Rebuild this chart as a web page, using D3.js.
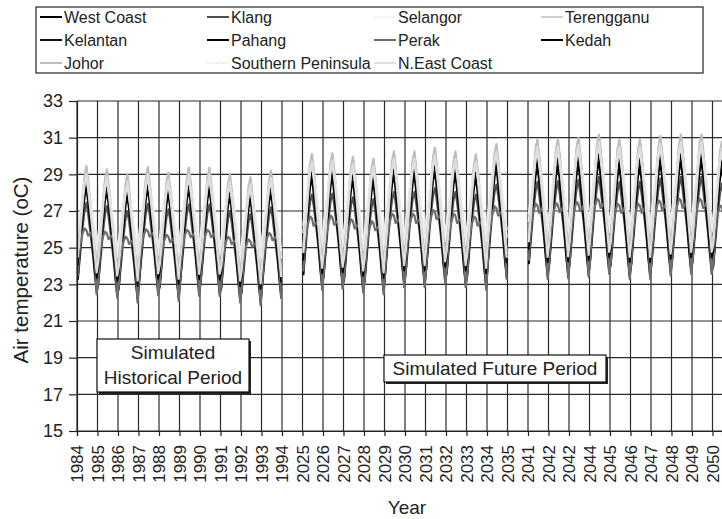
<!DOCTYPE html>
<html>
<head>
<meta charset="utf-8">
<script src="https://cdn.jsdelivr.net/npm/d3@7"></script>
<style>
  body { margin: 0; background: #fff; }
  svg { font-family: "Liberation Sans", Arial, sans-serif; }
</style>
</head>
<body>
<svg id="chart" width="722" height="519"></svg>
<script>
// tick labels as printed on the original (note the repeated 2042)
const years = ['1984','1985','1986','1987','1988','1989','1990','1991','1992','1993','1994',
  '2025','2026','2027','2028','2029','2030','2031','2032','2033','2034','2035',
  '2041','2042','2042','2044','2045','2046','2047','2048','2049','2050']

// first slot of each simulated period (10 years each)
const periodStart = [0, 11, 22]

// monthly air temperature, Jan..Dec, for historical / future 1 / future 2
const westCoast = [23.4,24.6,25.8,27.0,27.9,28.4,27.5,26.6,25.6,24.6,23.5,22.6,
  24.0,25.3,26.6,27.8,28.8,29.3,28.4,27.4,26.4,25.3,24.1,23.2,
  24.6,25.9,27.2,28.4,29.4,29.9,29.0,28.0,27.0,25.9,24.7,23.8]
const klang = [23.0,24.0,25.0,26.0,26.8,27.2,26.6,25.8,25.0,24.2,23.2,22.3,
  23.6,24.7,25.8,26.8,27.6,28.0,27.4,26.6,25.8,24.9,23.8,22.9,
  24.2,25.3,26.4,27.4,28.2,28.7,28.0,27.2,26.4,25.5,24.4,23.5]
const selangor = [25.2,26.0,26.9,27.8,28.5,28.9,28.3,27.6,26.9,26.1,25.2,24.4,
  25.9,26.8,27.8,28.8,29.5,29.9,29.3,28.6,27.8,27.0,26.0,25.1,
  26.5,27.4,28.4,29.4,30.2,30.7,30.0,29.3,28.5,27.6,26.6,25.7]
const terengganu = [24.4,25.4,26.5,27.6,28.6,29.1,28.2,27.3,26.4,25.5,24.5,23.6,
  25.0,26.1,27.3,28.5,29.6,30.1,29.2,28.2,27.2,26.2,25.1,24.2,
  25.6,26.8,28.0,29.2,30.4,30.9,30.0,29.0,28.0,26.9,25.8,24.8]
const kelantan = [23.6,24.8,26.0,27.1,28.0,28.6,27.7,26.8,25.9,24.9,23.8,22.9,
  24.2,25.5,26.8,28.0,29.0,29.5,28.6,27.6,26.6,25.6,24.4,23.5,
  24.8,26.1,27.4,28.6,29.6,30.1,29.2,28.2,27.2,26.2,25.0,24.1]
const pahang = [23.0,24.2,25.4,26.6,27.5,28.0,27.2,26.3,25.4,24.4,23.3,22.4,
  23.6,24.9,26.2,27.4,28.4,28.9,28.0,27.1,26.1,25.1,23.9,23.0,
  24.2,25.5,26.8,28.0,29.0,29.5,28.7,27.7,26.7,25.7,24.5,23.6]
const perak = [23.2,24.6,25.3,25.6,25.8,25.7,25.4,25.5,25.6,25.2,24.0,22.2,
  23.8,25.3,26.1,26.5,26.8,26.7,26.3,26.4,26.5,26.1,24.7,22.8,
  24.4,25.9,26.8,27.2,27.5,27.4,27.0,27.1,27.3,26.8,25.4,23.4]
const kedah = [23.8,25.0,26.2,27.3,28.1,28.5,27.6,26.8,26.0,25.1,24.0,23.1,
  24.4,25.7,27.0,28.2,29.1,29.4,28.6,27.7,26.8,25.8,24.6,23.7,
  25.0,26.3,27.6,28.8,29.7,30.0,29.2,28.3,27.4,26.4,25.2,24.3]
const johor = [24.6,25.6,26.7,27.8,28.7,29.2,28.4,27.5,26.6,25.7,24.7,23.8,
  25.2,26.3,27.5,28.7,29.7,30.2,29.4,28.4,27.4,26.4,25.3,24.4,
  25.8,27.0,28.2,29.4,30.5,31.0,30.2,29.2,28.2,27.1,26.0,25.0]
const southernPeninsula = [25.6,26.3,27.0,27.7,28.3,28.6,28.0,27.4,26.8,26.2,25.5,24.8,
  26.3,27.1,27.9,28.7,29.3,29.6,29.0,28.4,27.7,27.0,26.2,25.5,
  26.9,27.7,28.5,29.3,30.0,30.4,29.7,29.1,28.4,27.7,26.9,26.1]
const nEastCoast = [24.2,25.2,26.3,27.4,28.3,28.8,28.0,27.1,26.2,25.3,24.3,23.4,
  24.8,25.9,27.1,28.3,29.3,29.8,29.0,28.0,27.0,26.0,24.9,24.0,
  25.4,26.6,27.8,29.0,30.1,30.6,29.8,28.8,27.8,26.7,25.6,24.6]

// year to year departure read from the annual peaks (10 per period)
const yearShift = [0.25,0.07,-0.2,0.2,-0.1,0.17,0.17,-0.2,-0.35,0.0,
  -0.1,-0.05,-0.25,-0.35,0.05,0.05,0.25,0.05,-0.1,0.45,
  -0.1,-0.07,0.0,0.17,-0.1,-0.1,0.08,0.17,0.17,-0.2]

const seriesNames = ['West Coast','Klang','Selangor','Terengganu','Kelantan','Pahang',
  'Perak','Kedah','Johor','Southern Peninsula','N.East Coast']
const seriesValues = [westCoast, klang, selangor, terengganu, kelantan, pahang,
  perak, kedah, johor, southernPeninsula, nEastCoast]
const seriesColors = ['#000','#505050','#f4f4f4','#cfcfcf','#111','#000',
  '#6e6e6e','#000','#bdbdbd','#ebebeb','#dedede']
const seriesWidths = [1.6,2,2.4,2.2,1.6,1.8,2.2,1.6,2.2,2.4,2.2]

const yTicks = [15,17,19,21,23,25,27,29,31,33]

//----------------------------------------------------------------------------
const svg = d3.select('#chart')

const plotLeft = 77, plotTop = 101, plotBottom = 431, step = 20.5
const x = d3.scaleLinear().domain([0, (722 - plotLeft) / step]).range([plotLeft, 722])
const y = d3.scaleLinear().domain([15, 33]).range([plotBottom, plotTop])

svg.append('defs').append('clipPath').attr('id', 'plot')
  .append('rect').attr('x', plotLeft).attr('y', plotTop - 5)
  .attr('width', 722 - plotLeft).attr('height', plotBottom - plotTop + 5)

//grid
const grid = svg.append('g').attr('stroke', '#2a2a2a').attr('stroke-width', 1.2)
grid.selectAll('.h').data(yTicks).join('line')
  .attr('x1', plotLeft).attr('x2', 722)
  .attr('y1', d => y(d)).attr('y2', d => y(d))
grid.selectAll('.v').data(d3.range(years.length)).join('line')
  .attr('x1', d => x(d)).attr('x2', d => x(d))
  .attr('y1', plotTop).attr('y2', plotBottom)

//series
const line = d3.line().x(d => x(d.t)).y(d => y(d.v))
const lines = svg.append('g').attr('clip-path', 'url(#plot)')
seriesValues.forEach((vals, s) => {
  periodStart.forEach((start, p) => {
    const pts = []
    for (let k = 0; k < 10; k++) {
      for (let m = 0; m < 12; m++) {
        pts.push({ t: start + k + (m + 0.5) / 12, v: vals[p * 12 + m] + yearShift[p * 10 + k] })
      }
    }
    lines.append('path')
      .attr('d', line(pts))
      .attr('fill', 'none')
      .attr('stroke', seriesColors[s])
      .attr('stroke-width', seriesWidths[s])
      .attr('stroke-linejoin', 'round')
  })
})

//axes
const yAxis = svg.append('g').attr('transform', `translate(${plotLeft},0)`)
  .call(d3.axisLeft(y).tickValues(yTicks).tickSize(8).tickPadding(6))
yAxis.selectAll('text').attr('font-size', 18).attr('fill', '#222').attr('font-family', 'Liberation Sans')
yAxis.selectAll('line, path').attr('stroke', '#222').attr('stroke-width', 1.2)

const xAxis = svg.append('g').attr('transform', `translate(0,${plotBottom})`)
  .call(d3.axisBottom(x).tickValues(d3.range(years.length)).tickFormat(i => years[i]).tickSize(5))
xAxis.select('.domain').attr('stroke', '#222').attr('stroke-width', 1.2)
xAxis.selectAll('line').attr('stroke', '#222').attr('stroke-width', 1.2)
xAxis.selectAll('text')
  .attr('font-size', 17).attr('fill', '#222').attr('font-family', 'Liberation Sans')
  .attr('transform', 'rotate(-90)')
  .attr('x', -14).attr('y', 0).attr('dy', '0.35em')
  .style('text-anchor', 'end')

svg.append('text').attr('x', 407).attr('y', 514)
  .attr('text-anchor', 'middle').attr('font-size', 19).attr('fill', '#222').text('Year')
svg.append('text').attr('transform', 'translate(28,270) rotate(-90)')
  .attr('text-anchor', 'middle').attr('font-size', 20.5).attr('fill', '#222').text('Air temperature (oC)')

//annotation boxes
function note(x0, y0, w, h, textLines, lineY) {
  svg.append('rect').attr('x', x0 + 2).attr('y', y0 + 2).attr('width', w).attr('height', h).attr('fill', '#222')
  svg.append('rect').attr('x', x0).attr('y', y0).attr('width', w).attr('height', h)
    .attr('fill', '#fff').attr('stroke', '#111').attr('stroke-width', 1.2)
  textLines.forEach((t, i) => {
    svg.append('text').attr('x', x0 + w / 2).attr('y', lineY[i])
      .attr('text-anchor', 'middle').attr('font-size', 19).attr('fill', '#222').text(t)
  })
}
note(97, 339, 152, 53, ['Simulated', 'Historical Period'], [359, 384])
note(384, 355, 222, 27, ['Simulated Future Period'], [375])

//legend
const legend = svg.append('g')
legend.append('rect').attr('x', 36).attr('y', 7).attr('width', 667).attr('height', 66)
  .attr('fill', '#fff').attr('stroke', '#222').attr('stroke-width', 1.2)
const colX = [40, 207, 374, 541], rowY = [17, 40, 63]
seriesNames.forEach((name, i) => {
  const lx = colX[i % 4], ly = rowY[Math.floor(i / 4)]
  legend.append('line').attr('x1', lx).attr('x2', lx + 22).attr('y1', ly).attr('y2', ly)
    .attr('stroke', seriesColors[i]).attr('stroke-width', 2)
    .attr('stroke-dasharray', i === 9 ? '2,1' : null)
  legend.append('text').attr('x', lx + 24).attr('y', ly).attr('dy', '0.35em')
    .attr('font-size', 16).attr('fill', '#222').text(name)
})
</script>
</body>
</html>
